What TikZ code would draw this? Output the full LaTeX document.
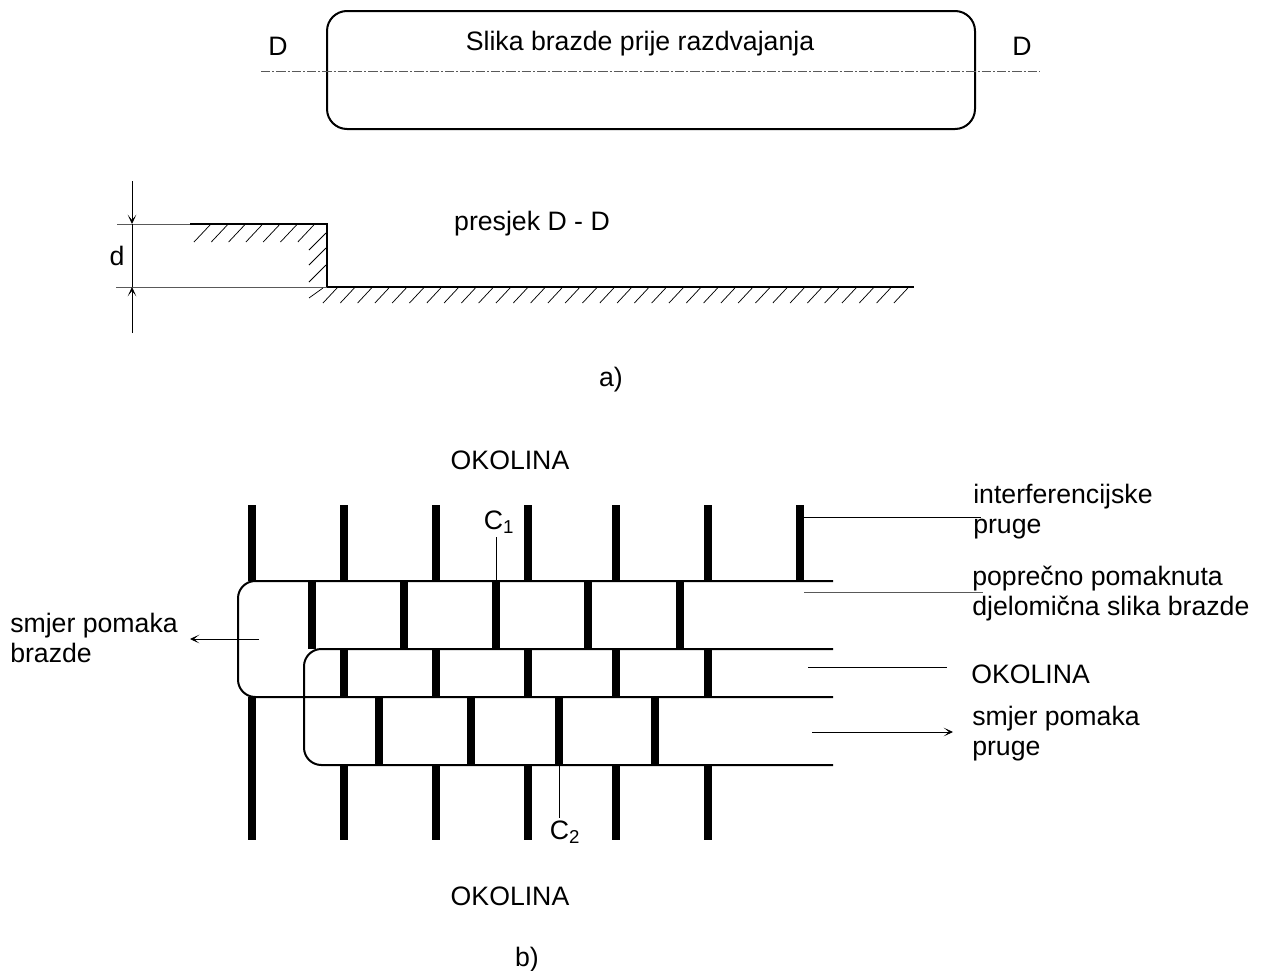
\documentclass[tikz,border=0pt]{standalone}
\usepackage{fontspec}
\setmainfont{Liberation Sans}
\usepackage{tikz}
\usetikzlibrary{arrows.meta,positioning,calc}
\tikzset{
    label/.style={font=\fontsize{20}{22.5}\selectfont, inner sep=0pt, align=left},
    contour/.style={line width=1.5pt, black},
    thin line/.style={line width=0.7pt, black},
    grey line/.style={line width=0.7pt, black!65},
    hatch/.style={line width=0.55pt, black},
    bar/.style={line width=6pt, black},
    centre line/.style={line width=0.7pt, black!65, dash pattern=on 7pt off 1.5pt on 1.5pt off 1.5pt},
    pointer/.style={line width=0.6pt, black, -{Stealth[length=7pt,width=6.5pt,inset=4pt]}}
}
\begin{document}
\begin{tikzpicture}[x=0.75pt,y=-0.75pt]
    \useasboundingbox (0,0) rectangle (1264,971);

    % Top view
    \draw [contour, rounded corners=15pt] (327,11) rectangle (975,129);
    \draw [centre line] (261,71) -- (1040,71);
    \node [label] (title) at (640,44) {Slika brazde prije razdvajanja};
    \node [label] (dleft) at (278,46) {D};
    \node [label] (dright) at (1022,46) {D};

    % Section D-D
    \draw [line width=1.5pt] (190,224) -- (327,224) -- (327,287) -- (914,287);
    \draw [grey line] (117,224) -- (190,224);
    \draw [grey line] (116,287) -- (327,287);
    \foreach \i in {0,...,6} {
        \draw [hatch] (194+17.3*\i,242) -- (210+17.3*\i,225);
    }
    \foreach \y in {250,265,282} {
        \draw [hatch] (309,\y) -- (326,\y-17);
    }
    \draw [hatch] (309,298) -- (323,288);
    \foreach \i in {0,...,33} {
        \draw [hatch] (323+17.3*\i,303) -- (337+17.3*\i,288);
    }
    \coordinate (dtop) at (132,224);
    \coordinate (dbottom) at (132,287);
    \coordinate (dabove) at (132,181);
    \coordinate (dbelow) at (132,333);
    \draw [thin line] (dtop) -- (dbottom);
    \draw [pointer] (dabove) -- (dtop);
    \draw [pointer] (dbelow) -- (dbottom);
    \node [label] (ddim) at (117,256) {d};
    \node [label] (section) at (532,224) {presjek D - D};
    \node [label] (parta) at (611,380) {a)};

    % Fringes
    \foreach \x in {344,436,528,616,708,800} {
        \draw [bar] (\x,505) -- (\x,581);
    }
    \draw [bar] (252,505) -- (252,581);
    \foreach \x in {312,404,496,588,680} {
        \draw [bar] (\x,581) -- (\x,649);
    }
    \foreach \x in {344,436,528,616,708} {
        \draw [bar] (\x,649) -- (\x,697);
        \draw [bar] (\x,765) -- (\x,840);
    }
    \foreach \x in {379,471,559,655} {
        \draw [bar] (\x,697) -- (\x,765);
    }
    \draw [bar] (252,697) -- (252,840);

    % Shifted part of the image
    \draw [contour, rounded corners=13pt] (833,581) -- (238,581) -- (238,697) -- (833,697);
    \draw [contour, rounded corners=13pt] (833,649) -- (304,649) -- (304,765) -- (833,765);

    % Labels and leaders
    \node [label] (outtop) at (510,460) {OKOLINA};
    \node [label] (outbottom) at (510,896) {OKOLINA};
    \node [label] (partb) at (527,960) {b)};
    \node [label] (cone) at (499,522) {C\textsubscript{1}};
    \node [label] (ctwo) at (565,832) {C\textsubscript{2}};
    \node [label, anchor=west] (fringes) at (973,512) {interferencijske\\pruge};
    \node [label, anchor=west] (shifted) at (972,594) {poprečno pomaknuta\\djelomična slika brazde};
    \node [label, anchor=west] (outright) at (971,674) {OKOLINA};
    \node [label, anchor=west] (moveright) at (972,734) {smjer pomaka\\pruge};
    \node [label, anchor=west] (moveleft) at (10,638) {smjer pomaka\\brazde};
    \coordinate (conetop) at (496,537);
    \coordinate (conefoot) at (496,581);
    \coordinate (ctwotop) at (559,765);
    \coordinate (ctwofoot) at (559,818);
    \draw [thin line] (conetop) -- (conefoot);
    \draw [thin line] (ctwotop) -- (ctwofoot);
    \coordinate (fringesfrom) at (804,517);
    \coordinate (fringesto) at (981,517);
    \coordinate (shiftedfrom) at (804,592);
    \coordinate (shiftedto) at (983,592);
    \coordinate (outfrom) at (808,667);
    \coordinate (outto) at (947,667);
    \coordinate (moverfrom) at (812,732);
    \coordinate (moverto) at (953,732);
    \coordinate (movelfrom) at (259,639);
    \coordinate (movelto) at (190,639);
    \draw [thin line] (fringesfrom) -- (fringesto);
    \draw [grey line] (shiftedfrom) -- (shiftedto);
    \draw [thin line] (outfrom) -- (outto);
    \draw [pointer] (moverfrom) -- (moverto);
    \draw [pointer] (movelfrom) -- (movelto);
\end{tikzpicture}
\end{document}
